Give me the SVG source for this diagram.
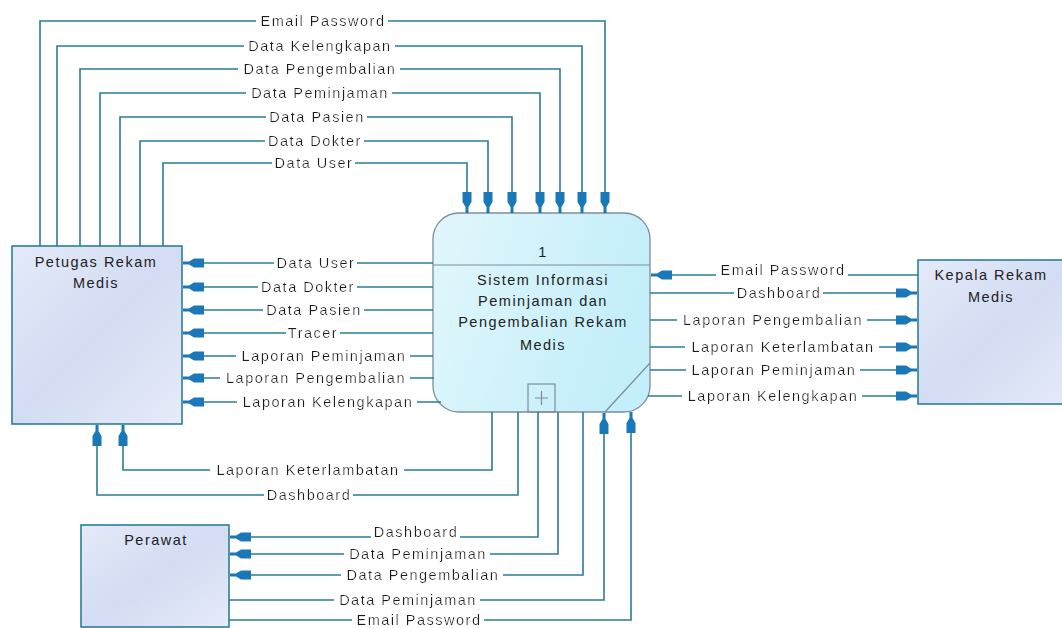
<svg xmlns="http://www.w3.org/2000/svg" width="1062" height="628" viewBox="0 0 1062 628">
<style>
  .lbl { font-family: "Liberation Sans", Arial, sans-serif; font-size: 14.5px; letter-spacing: 1.5px; fill: #1c1c1c; text-anchor: middle; filter: url(#bg); }
  .ntxt { font-family: "Liberation Sans", Arial, sans-serif; font-size: 14.5px; letter-spacing: 1.5px; fill: #222; text-anchor: middle; }
  .flow { fill: none; stroke: #2b7c95; stroke-width: 1.6; }
  .arr { marker-end: url(#ah); }
  .ent { stroke: #2b7f98; stroke-width: 1.6; fill: url(#entGrad); }
  .proc { stroke: #7d8d9c; stroke-width: 1.3; fill: url(#procGrad); }
</style>
<defs>
  <filter id="bg" x="-0.03" y="0" width="1.05" height="1">
    <feFlood flood-color="#ffffff" result="w"/>
    <feComposite in="SourceGraphic" in2="w" operator="over"/>
  </filter>
  <linearGradient id="entGrad" x1="0" y1="0" x2="1" y2="1">
    <stop offset="0" stop-color="#e4eaf8"/>
    <stop offset="0.5" stop-color="#d3dcf3"/>
    <stop offset="1" stop-color="#e6ebf8"/>
  </linearGradient>
  <linearGradient id="procGrad" x1="0" y1="0" x2="1" y2="0.3">
    <stop offset="0" stop-color="#e2f7fc"/>
    <stop offset="1" stop-color="#c3eefa"/>
  </linearGradient>
  <marker id="ah" markerUnits="userSpaceOnUse" viewBox="-22 -5 22 10" refX="0" refY="0" markerWidth="22" markerHeight="10" orient="auto" overflow="visible">
    <path d="M0,-1.5 L-6,-1.5 L-11,-4.5 L-21,-4.5 L-21,4.5 L-11,4.5 L-6,1.5 L0,1.5 Z" fill="#1a78b8"/>
  </marker>
</defs>
<rect x="0" y="0" width="1062" height="628" fill="#ffffff"/>

<g id="node-petugas">
  <rect class="ent" x="12" y="246" width="170" height="178"/>
  <text class="ntxt" x="96" y="267">Petugas Rekam</text>
  <text class="ntxt" x="96" y="288">Medis</text>
</g>

<g id="node-process">
  <rect class="proc" x="433" y="213" width="217" height="199" rx="26" ry="26"/>
  <line x1="433" y1="265" x2="650" y2="265" stroke="#7d8d9c" stroke-width="1.2"/>
  <rect x="528" y="384" width="27" height="28" fill="none" stroke="#7d8d9c" stroke-width="1.2"/>
  <path d="M535,398 H548 M541.5,391 V405" stroke="#7d8d9c" stroke-width="1.2"/>
  <line x1="605" y1="412" x2="650" y2="363" stroke="#7d8d9c" stroke-width="1.2"/>
  <text class="ntxt" x="543" y="257">1</text>
  <text class="ntxt" x="543" y="285">Sistem Informasi</text>
  <text class="ntxt" x="543" y="306">Peminjaman dan</text>
  <text class="ntxt" x="543" y="327">Pengembalian Rekam</text>
  <text class="ntxt" x="543" y="350">Medis</text>
</g>

<g id="node-kepala">
  <rect class="ent" x="918" y="260" width="160" height="144"/>
  <text class="ntxt" x="991" y="280">Kepala Rekam</text>
  <text class="ntxt" x="991" y="302">Medis</text>
</g>

<g id="node-perawat">
  <rect class="ent" x="81" y="525" width="148" height="102"/>
  <text class="ntxt" x="156" y="545">Perawat</text>
</g>

<g id="connectors">
  <!-- Petugas -> Process (top) -->
  <path class="flow arr" d="M40,246 V21 H605 V213"/>
  <path class="flow arr" d="M57,246 V46 H582 V213"/>
  <path class="flow arr" d="M80,246 V69 H560 V213"/>
  <path class="flow arr" d="M100,246 V93 H540 V213"/>
  <path class="flow arr" d="M120,246 V117 H512 V213"/>
  <path class="flow arr" d="M140,246 V141 H488 V213"/>
  <path class="flow arr" d="M163,246 V163 H467 V213"/>
  <!-- Process -> Petugas (left) -->
  <path class="flow arr" d="M433,263 H183"/>
  <path class="flow arr" d="M433,287 H183"/>
  <path class="flow arr" d="M433,310 H183"/>
  <path class="flow arr" d="M433,333 H183"/>
  <path class="flow arr" d="M433,356 H183"/>
  <path class="flow arr" d="M434,378 H183"/>
  <path class="flow arr" d="M441,402 H183"/>
  <!-- Process -> Petugas (bottom) -->
  <path class="flow arr" d="M492,412 V470 H123 V425"/>
  <path class="flow arr" d="M518,412 V495 H97 V425"/>
  <!-- Process -> Perawat -->
  <path class="flow arr" d="M538,412 V537 H230"/>
  <path class="flow arr" d="M558,412 V554 H230"/>
  <path class="flow arr" d="M583,412 V575 H230"/>
  <!-- Perawat -> Process -->
  <path class="flow arr" d="M229,600 H604 V413"/>
  <path class="flow arr" d="M229,620 H631 V412"/>
  <!-- Kepala <-> Process -->
  <path class="flow arr" d="M918,275 H651"/>
  <path class="flow arr" d="M650,293 H917"/>
  <path class="flow arr" d="M650,320 H917"/>
  <path class="flow arr" d="M650,347 H917"/>
  <path class="flow arr" d="M650,370 H917"/>
  <path class="flow arr" d="M648,396 H917"/>

  <!-- labels -->
  <text class="lbl" x="323" y="26">Email Password</text>
  <text class="lbl" x="320" y="51">Data Kelengkapan</text>
  <text class="lbl" x="320" y="74">Data Pengembalian</text>
  <text class="lbl" x="320" y="98">Data Peminjaman</text>
  <text class="lbl" x="317" y="122">Data Pasien</text>
  <text class="lbl" x="315" y="146">Data Dokter</text>
  <text class="lbl" x="314" y="168">Data User</text>

  <text class="lbl" x="316" y="268">Data User</text>
  <text class="lbl" x="308" y="292">Data Dokter</text>
  <text class="lbl" x="314" y="315">Data Pasien</text>
  <text class="lbl" x="313" y="338">Tracer</text>
  <text class="lbl" x="324" y="361">Laporan Peminjaman</text>
  <text class="lbl" x="316" y="383">Laporan Pengembalian</text>
  <text class="lbl" x="328" y="407">Laporan Kelengkapan</text>

  <text class="lbl" x="308" y="475">Laporan Keterlambatan</text>
  <text class="lbl" x="309" y="500">Dashboard</text>

  <text class="lbl" x="416" y="537">Dashboard</text>
  <text class="lbl" x="418" y="559">Data Peminjaman</text>
  <text class="lbl" x="423" y="580">Data Pengembalian</text>
  <text class="lbl" x="408" y="605">Data Peminjaman</text>
  <text class="lbl" x="419" y="625">Email Password</text>

  <text class="lbl" x="783" y="275">Email Password</text>
  <text class="lbl" x="779" y="298">Dashboard</text>
  <text class="lbl" x="773" y="325">Laporan Pengembalian</text>
  <text class="lbl" x="783" y="352">Laporan Keterlambatan</text>
  <text class="lbl" x="774" y="375">Laporan Peminjaman</text>
  <text class="lbl" x="773" y="401">Laporan Kelengkapan</text>
</g>
</svg>
